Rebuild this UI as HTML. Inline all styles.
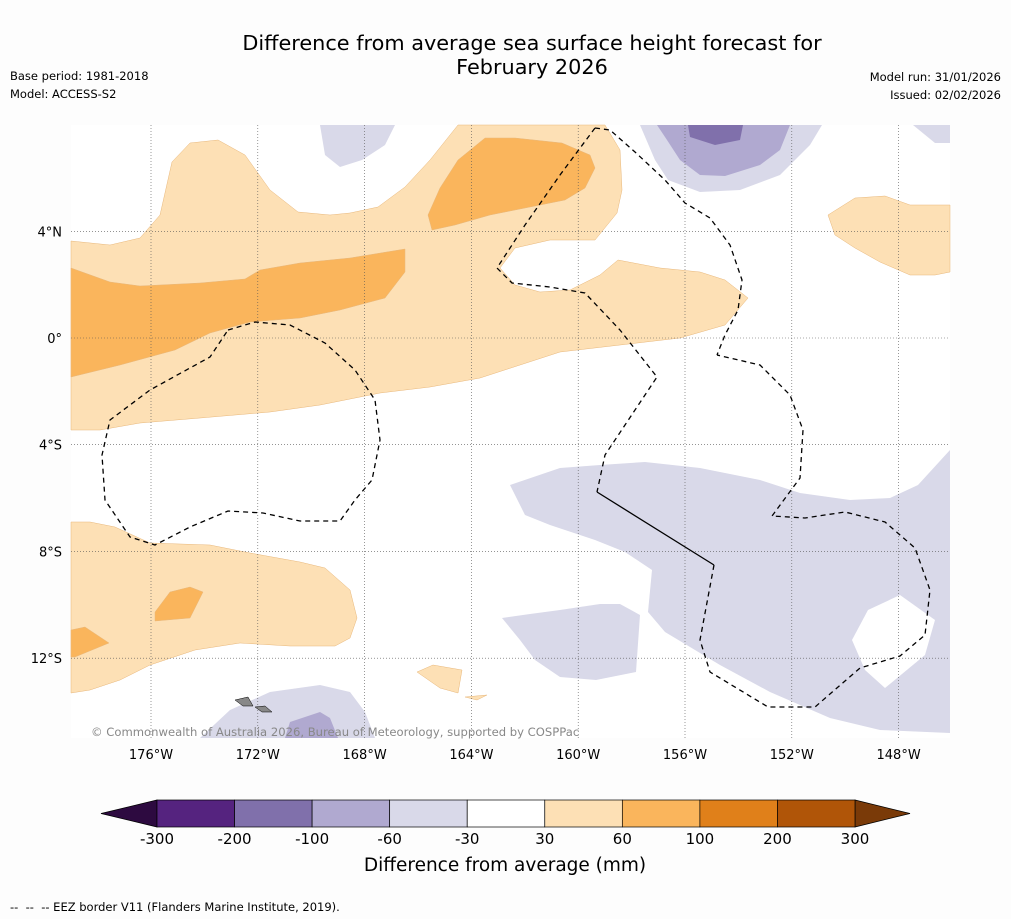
<!DOCTYPE html>
<html><head><meta charset="utf-8"><style>
body{margin:0;background:#fdfdfd;}
svg{display:block;font-family:"DejaVu Sans","Liberation Sans",sans-serif;}
</style></head><body>
<svg id="chart" width="1011" height="919" viewBox="0 0 1011 919">
<rect width="1011" height="919" fill="#fdfdfd"/>
<text x="532" y="50" font-size="20.8" text-anchor="middle">Difference from average sea surface height forecast for</text>
<text x="532" y="74" font-size="20.8" text-anchor="middle">February 2026</text>
<text x="10" y="80" font-size="11.5">Base period: 1981-2018</text>
<text x="10" y="98" font-size="11.5">Model: ACCESS-S2</text>
<text x="1001" y="81" font-size="11.5" text-anchor="end">Model run: 31/01/2026</text>
<text x="1001" y="99" font-size="11.5" text-anchor="end">Issued: 02/02/2026</text>
<g id="map">
<rect x="71" y="125" width="879" height="613" fill="#ffffff"/>
<g id="shapes"></g>
<g id="grid"></g>
<g id="eez" fill="none" stroke="#000" stroke-width="1.3"></g>
</g>
<text x="91" y="736" font-size="11.6" fill="#888">© Commonwealth of Australia 2026, Bureau of Meteorology, supported by COSPPac</text>
<g id="axes"></g>
<g id="colorbar"></g>
<text x="505" y="871" font-size="18.5" text-anchor="middle">Difference from average (mm)</text>
<text x="10" y="911" font-size="11.5" xml:space="preserve">--  --  -- EEZ border V11 (Flanders Marine Institute, 2019).</text>
</svg>
<script>
const lonTicks=[176,172,168,164,160,156,152,148];
const latTicks=[4,0,-4,-8,-12];
const levels=["-300","-200","-100","-60","-30","30","60","100","200","300"];
const levelColors=["#55237f","#8070ab","#b0a9d0","#d9d9e9","#ffffff","#fde0b5","#fab55c","#e0801a","#b05508"];
const lowColor="#2d0a40", highColor="#7a3a08";
const NS="http://www.w3.org/2000/svg";
function xLon(w){return 151+(176-w)*26.7;}
function yLat(l){return 338-l*26.68;}
function mk(t,a,p){const e=document.createElementNS(NS,t);for(const k in a)e.setAttribute(k,a[k]);p.appendChild(e);return e;}
const LO="#fde0b5",OR="#fab55c",LV="#d9d9e9",MP="#b0a9d0",DP="#8070ab";
const shapes=[
["light-orange-north-band",LO,"71,241 110,245 140,238 160,215 172,162 190,143 218,140 245,155 270,190 298,212 330,215 350,213 378,207 405,187 430,160 458,125 605,125 620,150 622,190 617,213 595,240 550,240 515,248 500,268 515,285 540,292 570,290 600,275 618,260 660,268 700,272 725,280 748,298 725,325 680,338 620,345 560,352 520,365 480,378 430,387 380,393 320,405 270,412 200,418 140,423 100,430 71,430"],
["orange-west-band",OR,"71,268 110,282 140,286 200,283 245,279 260,270 300,263 350,258 405,249 405,272 385,298 340,310 300,318 250,322 210,333 175,350 120,365 71,377"],
["orange-north-patch",OR,"428,215 440,188 458,160 485,138 515,138 562,143 590,155 595,168 585,188 565,200 530,207 490,215 455,225 432,230"],
["light-orange-southwest",LO,"71,522 90,522 115,527 150,543 210,545 250,553 300,562 325,568 350,590 357,618 350,638 335,646 290,646 240,643 195,650 150,665 120,680 90,690 71,693"],
["orange-southwest-patch",OR,"155,612 170,592 190,587 203,592 190,618 155,621"],
["orange-west-edge-patch",OR,"71,630 85,627 109,643 75,657 71,657"],
["light-orange-small-1",LO,"417,672 433,665 462,670 458,693 440,688"],
["light-orange-small-2",LO,"465,697 487,695 477,700"],
["light-orange-east",LO,"828,215 855,198 885,196 910,205 950,205 950,272 935,275 910,275 880,262 855,248 835,235"],
["lavender-north-blob",LV,"320,125 395,125 385,145 362,160 340,167 325,155"],
["lavender-northeast",LV,"640,125 822,125 810,145 780,175 740,190 700,192 668,180 655,160"],
["purple-northeast",MP,"657,125 790,125 780,150 760,165 725,176 700,175 680,160 667,140"],
["dark-purple-northeast",DP,"688,125 743,125 740,140 715,145 690,137"],
["lavender-corner",LV,"913,125 950,125 950,143 935,143"],
["lavender-southeast",LV,"510,485 560,468 600,465 645,462 700,468 760,480 800,493 850,500 890,498 918,485 950,450 950,733 880,730 830,718 770,692 720,665 665,632 648,612 652,570 625,552 595,540 550,525 525,515"],
["white-hole-southeast","#ffffff","852,640 868,610 900,595 935,620 925,655 885,688 865,670"],
["lavender-south-middle",LV,"502,618 530,614 560,610 600,604 620,604 640,615 636,672 596,680 560,677 535,660 520,640"],
["lavender-south",LV,"200,738 230,710 270,692 320,685 350,692 365,712 375,738"],
["purple-south",MP,"290,722 320,712 330,718 338,738 285,738"],
["island-1","#888","235,700 248,697 253,706 243,706"],
["island-2","#888","255,707 265,706 272,712 262,712"]
];
const sg=document.getElementById('shapes');
shapes.forEach(s=>{const p=mk('polygon',{points:s[2],fill:s[1],stroke:s[1]==="#888"?"#000":(s[1]==="#ffffff"?"none":"#e8b77a"),"stroke-width":s[1]===LO||s[1]===OR||s[1]==="#888"?0.5:0},sg);

});
const gg=document.getElementById('grid'), ax=document.getElementById('axes');
lonTicks.forEach(w=>{const x=xLon(w);
const l=mk('line',{x1:x,y1:125,x2:x,y2:738,stroke:"#555","stroke-width":0.6,"stroke-dasharray":"1,2"},gg);


const t=mk('text',{x:x,y:759,"font-size":13,"text-anchor":"middle"},ax);t.textContent=w+"°W";

});
latTicks.forEach(v=>{const y=yLat(v);
const l=mk('line',{x1:71,y1:y,x2:950,y2:y,stroke:"#555","stroke-width":0.6,"stroke-dasharray":"1,2"},gg);


const t=mk('text',{x:62,y:y+5,"font-size":13,"text-anchor":"end"},ax);t.textContent=v===0?"0°":Math.abs(v)+"°"+(v>0?"N":"S");

});
const eg=document.getElementById('eez');
const eez=[
["eez-east-north","595,128 610,130 635,152 665,180 685,203 710,218 730,245 742,280 738,310 725,335 717,355",true],
["eez-central","595,128 560,175 525,225 497,268 512,283 550,287 585,293 620,330 657,377 625,425 605,455 597,492",true],
["eez-solid-segment","597,492 714,565",false],
["eez-south","714,565 700,640 710,672 768,707 815,707 860,668 900,656 925,635 930,590 915,548 885,522 845,512 805,518 772,516 800,478 803,430 790,395 760,365 717,355",true],
["eez-west-loop","228,330 255,322 290,325 325,343 355,370 375,400 380,440 372,480 355,500 340,521 300,521 263,513 228,511 190,527 155,545 130,537 105,500 102,455 110,420 150,390 210,357 228,330",true]];
eez.forEach(e=>{const p=mk('polyline',{points:e[1]},eg);if(e[2])p.setAttribute('stroke-dasharray','5,4');

});
const cb=document.getElementById('colorbar');
const x0=157,x1=855,bw=(x1-x0)/levelColors.length,cy=800,ch=27;
const lt=mk('polygon',{points:`${x0},${cy} ${x0},${cy+ch} 101,${cy+ch/2}`,fill:lowColor,stroke:"#000","stroke-width":0.7},cb);


const rt=mk('polygon',{points:`${x1},${cy} ${x1},${cy+ch} 910,${cy+ch/2}`,fill:highColor,stroke:"#000","stroke-width":0.7},cb);


levelColors.forEach((c,i)=>{const r=mk('rect',{x:x0+i*bw,y:cy,width:bw,height:ch,fill:c,stroke:"#000","stroke-width":0.7},cb);

});
levels.forEach((s,i)=>{const t=mk('text',{x:x0+i*bw,y:844,"font-size":15,"text-anchor":"middle"},cb);t.textContent=s;

});
</script>
</body></html>
